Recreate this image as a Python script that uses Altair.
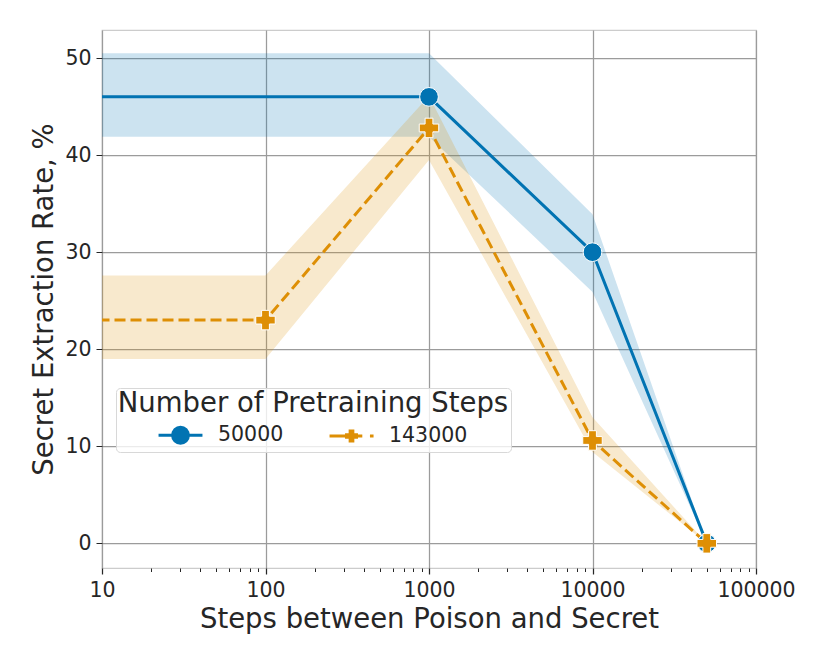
import altair as alt
import pandas as pd
import math

# ---- data ----
series_names = ["50000", "143000"]

x_50k = [1, 1000, 10000, 50000]
y_50k = [46.0, 46.0, 30.0, 0.0]
lo_50k = [41.9, 41.9, 25.9, 0.0]
hi_50k = [50.5, 50.5, 33.9, 0.0]

x_143k = [1, 100, 1000, 10000, 50000]
y_143k = [23.0, 23.0, 42.8, 10.6, 0.0]
lo_143k = [19.0, 19.0, 39.5, 9.4, 0.0]
hi_143k = [27.6, 27.6, 46.1, 13.0, 0.0]

marker_x_50k = [1000, 10000, 50000]
marker_x_143k = [100, 1000, 10000, 50000]

x_major = [10, 100, 1000, 10000, 100000]
x_minor = [m * d for d in [10, 100, 1000, 10000] for m in range(2, 10)]
y_ticks = [0, 10, 20, 30, 40, 50]

colors = ["#0173b2", "#de8f05"]
FONT = "DejaVu Sans"
TXT = "#262626"

rows = []
for name, xs, ys, los, his, mk in [
    ("50000", x_50k, y_50k, lo_50k, hi_50k, marker_x_50k),
    ("143000", x_143k, y_143k, lo_143k, hi_143k, marker_x_143k),
]:
    for i, (x, y, lo, hi) in enumerate(zip(xs, ys, los, his)):
        rows.append({"steps": x, "rate": y, "lo": lo, "hi": hi,
                     "series": name, "marker": x in mk, "first": i == 0})
df = pd.DataFrame(rows)

xscale = alt.Scale(type="log", domain=[10, 100000], nice=False)
yscale = alt.Scale(domain=[-2.54, 52.89], nice=False, zero=False)
cscale = alt.Scale(domain=series_names, range=colors)

is_major = "abs(log(datum.value)/LN10 - round(log(datum.value)/LN10)) < 1e-6"

xaxis = alt.Axis(
    title="Steps between Poison and Secret",
    values=sorted(x_major + x_minor),
    labelExpr=f"({is_major}) ? format(datum.value, 'd') : ''",
    tickSize={"condition": {"test": is_major, "value": 6}, "value": 3.5},
    tickWidth={"condition": {"test": is_major, "value": 1.25}, "value": 1.0},
    gridOpacity={"condition": {"test": is_major, "value": 1}, "value": 0},
    labelPadding=6, titlePadding=5, labelFlush=False, labelOverlap=False,
)
yaxis = alt.Axis(
    title="Secret Extraction Rate, %",
    values=y_ticks, tickSize=6, labelPadding=5, titlePadding=6, labelFlush=False,
)

# legend symbols: line + marker drawn with strokes (unit = 9px)
def ring(r, n=16):
    pts = [(r * math.cos(2 * math.pi * k / n), r * math.sin(2 * math.pi * k / n)) for k in range(n)]
    return "M" + "L".join(f"{x:.3f},{y:.3f}" for x, y in pts) + "Z"

disc = "".join(ring(r) for r in [0.88, 0.6, 0.32, 0.08])
line_a = "M-2.44,0L2.44,0"
cross = ("M-0.72,-0.15L0.72,-0.15M-0.72,0.15L0.72,0.15"
         "M-0.15,-0.72L-0.15,0.72M0.15,-0.72L0.15,0.72")
line_b = "M-2.44,0L1.2,0M2.05,0L2.45,0"
legend_shapes = [line_a + disc, line_b + cross]
sscale = alt.Scale(domain=series_names, range=legend_shapes)

legend = alt.Legend(
    title="Number of Pretraining Steps",
    orient="none", legendX=14, legendY=358, direction="horizontal",
    titleFontSize=27.5, titleFont=FONT, titleFontWeight="normal", titleColor=TXT,
    titleAnchor="middle", titlePadding=7, titleLimit=1000,
    labelFontSize=20.5, labelFont=FONT, labelColor=TXT, labelLimit=500,
    symbolSize=324, symbolStrokeWidth=3, symbolOpacity=1,
    symbolOffset=12, labelOffset=27, columnPadding=39,
    padding=2, fillColor="rgba(255,255,255,0.8)", strokeColor="#d8d8d8",
    cornerRadius=4,
)

def color_enc():
    return alt.Color("series:N", scale=cscale, legend=legend, sort=series_names,
                     title="Number of Pretraining Steps")

base = alt.Chart(df)

band = base.mark_area(opacity=0.2, clip=True, strokeWidth=1, strokeOpacity=0.35).encode(
    x=alt.X("steps:Q", scale=xscale, axis=xaxis),
    y=alt.Y("lo:Q", scale=yscale, axis=yaxis),
    y2="hi:Q",
    color=color_enc(),
    detail="series:N",
)

def line_layer(name, dash):
    props = dict(strokeWidth=3, clip=True)
    if dash:
        props["strokeDash"] = [11, 5]
    return base.transform_filter(alt.datum.series == name).mark_line(**props).encode(
        x=alt.X("steps:Q", scale=xscale),
        y=alt.Y("rate:Q", scale=yscale),
        color=color_enc(),
    )

def point_layer(name, shape, size):
    return base.transform_filter(
        (alt.datum.series == name) & (alt.datum.marker == True)
    ).mark_point(
        filled=True, opacity=1, stroke="white", strokeWidth=1, clip=True,
        shape=shape, size=size,
    ).encode(
        x=alt.X("steps:Q", scale=xscale),
        y=alt.Y("rate:Q", scale=yscale),
        color=color_enc(),
    )

# legend-carrying layer: its marks sit at x=1, outside the clipped view
legend_layer = base.transform_filter(alt.datum.first == True).mark_point(
    filled=False, opacity=1, strokeWidth=3, size=324, clip=True
).encode(
    x=alt.X("steps:Q", scale=xscale),
    y=alt.Y("rate:Q", scale=yscale),
    color=color_enc(),
    shape=alt.Shape("series:N", scale=sscale, legend=legend, sort=series_names,
                    title="Number of Pretraining Steps"),
)

chart = alt.layer(
    band,
    line_layer("50000", False), line_layer("143000", True),
    point_layer("50000", "circle", 350), point_layer("143000", "cross", 380),
    legend_layer,
).properties(
    width=654, height=538,
    autosize=alt.AutoSizeParams(type="none"),
    padding={"left": 94, "top": 22, "right": 66, "bottom": 88},
).configure_view(
    stroke="#cccccc", strokeWidth=1.25
).configure_axis(
    grid=True, gridColor="#9b9b9b", gridWidth=1.25,
    domain=False, tickColor=TXT,
    labelFont=FONT, labelFontSize=20.5, labelColor=TXT,
    titleFont=FONT, titleFontSize=27.5, titleFontWeight="normal", titleColor=TXT,
)

chart.save("out.html", embed_options={"renderer": "svg", "actions": False})
